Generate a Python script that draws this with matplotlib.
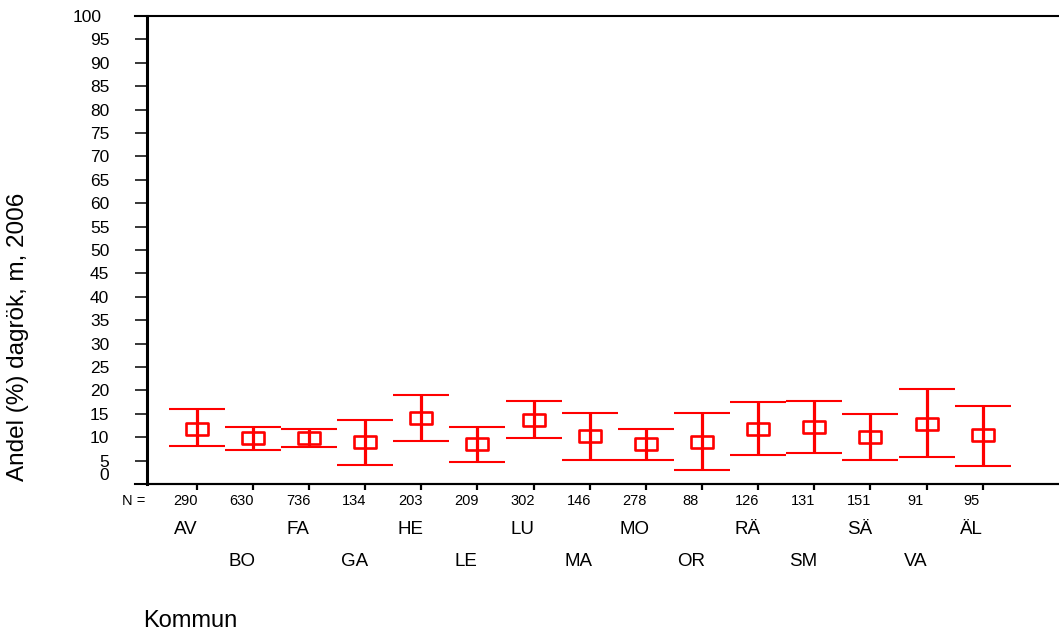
import matplotlib
matplotlib.use("Agg")
import matplotlib.pyplot as plt
from matplotlib.lines import Line2D
from matplotlib.path import Path
import matplotlib.transforms as mtransforms

plt.rcParams['font.family'] = ['Liberation Sans', 'DejaVu Sans']

# Municipalities, sample sizes, mean share of daily smokers and 95% CI limits
kommuner = ["AV", "BO", "FA", "GA", "HE", "LE", "LU", "MA",
            "MO", "OR", "RÄ", "SM", "SÄ", "VA", "ÄL"]
n_values = [290, 630, 736, 134, 203, 209, 302, 146,
            278, 88, 126, 131, 151, 91, 95]
mean_pct = [11.8, 9.9, 9.9, 9.0, 14.2, 8.5, 13.7, 10.2,
            8.5, 8.9, 11.8, 12.2, 10.0, 12.9, 10.4]
ci_upper = [16.0, 12.2, 11.8, 13.7, 19.0, 12.2, 17.8, 15.2,
            11.8, 15.2, 17.5, 17.8, 14.9, 20.4, 16.7]
ci_lower = [8.1, 7.3, 7.8, 4.1, 9.2, 4.8, 9.9, 5.1,
            5.1, 3.0, 6.2, 6.7, 5.1, 5.8, 3.9]
y_ticks = list(range(0, 101, 5))

W, H = 1059, 634
fig = plt.figure(figsize=(W / 100, H / 100), dpi=100)
ax = fig.add_axes([147 / W, 150 / H, (W - 147) / W, 468 / H])

xs = list(range(1, len(kommuner) + 1))
red = "#ff0000"
yerr = [[m - lo for m, lo in zip(mean_pct, ci_lower)],
        [hi - m for m, hi in zip(mean_pct, ci_upper)]]

# rectangular open marker, wider than tall
rect = Path([(-1, -0.55), (1, -0.55), (1, 0.55), (-1, 0.55), (-1, -0.55)],
            [Path.MOVETO, Path.LINETO, Path.LINETO, Path.LINETO, Path.CLOSEPOLY])

ax.errorbar(xs, mean_pct, yerr=yerr, fmt="none", ecolor=red,
            elinewidth=2.3, capsize=20.5, capthick=1.5, zorder=2)
ax.plot(xs, mean_pct, linestyle="none", marker=rect, markersize=15.5,
        markerfacecolor="white", markeredgecolor=red, markeredgewidth=1.9,
        zorder=3)
ax.plot(xs, mean_pct, linestyle="none", marker="|", markersize=8,
        markeredgecolor=red, markeredgewidth=2.3, zorder=4)

ax.set_xlim(0.115, 16.36)
ax.set_ylim(0, 100)

for s in ["right", "top"]:
    ax.spines[s].set_visible(False)
ax.spines["left"].set_linewidth(2.2)
ax.spines["bottom"].set_linewidth(1.5)

# top and bottom frame lines reach past the left spine to the tick ends
for yy, lw in [(1.0, 1.5), (0.0, 1.5)]:
    ax.add_line(Line2D([-12 / (W - 147), 1.0], [yy, yy],
                       transform=ax.transAxes, color="black", lw=lw,
                       clip_on=False, zorder=5))

ax.set_yticks(y_ticks)
ax.set_yticklabels([str(v) for v in y_ticks])
ax.tick_params(axis="y", direction="out", length=8.6, width=1.1,
               pad=18.5, labelsize=12.5)
for lbl in ax.get_yticklabels():
    if lbl.get_text() == "0":
        lbl.set_transform(lbl.get_transform() +
                          mtransforms.ScaledTranslation(0, 10.5 / 100, fig.dpi_scale_trans))
    if lbl.get_text() == "100":
        lbl.set_transform(lbl.get_transform() +
                          mtransforms.ScaledTranslation(-8 / 100, 0, fig.dpi_scale_trans))

ax.set_xticks(xs)
ax.set_xticklabels([])
ax.tick_params(axis="x", direction="out", length=4.5, width=1.6)

# N row and staggered municipality labels beneath the axis
shift = mtransforms.ScaledTranslation(-11 / 100, 0, fig.dpi_scale_trans)
trans = mtransforms.blended_transform_factory(ax.transData, fig.transFigure) + shift
for i, (x, n, k) in enumerate(zip(xs, n_values, kommuner)):
    ax.text(x, 1 - 501 / H, str(n), transform=trans, ha="center", va="center",
            fontsize=10.5)
    row_y = 530 if i % 2 == 0 else 561
    ax.text(x, 1 - row_y / H, k, transform=trans, ha="center", va="center",
            fontsize=13.5)
fig.text(145 / W, 1 - 501 / H, "N =", ha="right", va="center", fontsize=10.5)

fig.text(143 / W, 1 - 621 / H, "Kommun", ha="left", va="center", fontsize=17)
fig.text(18 / W, 1 - 337 / H, "Andel (%) dagrök, m, 2006", rotation=90,
         ha="center", va="center", fontsize=17.5)

fig.savefig("out.png", dpi=100)
